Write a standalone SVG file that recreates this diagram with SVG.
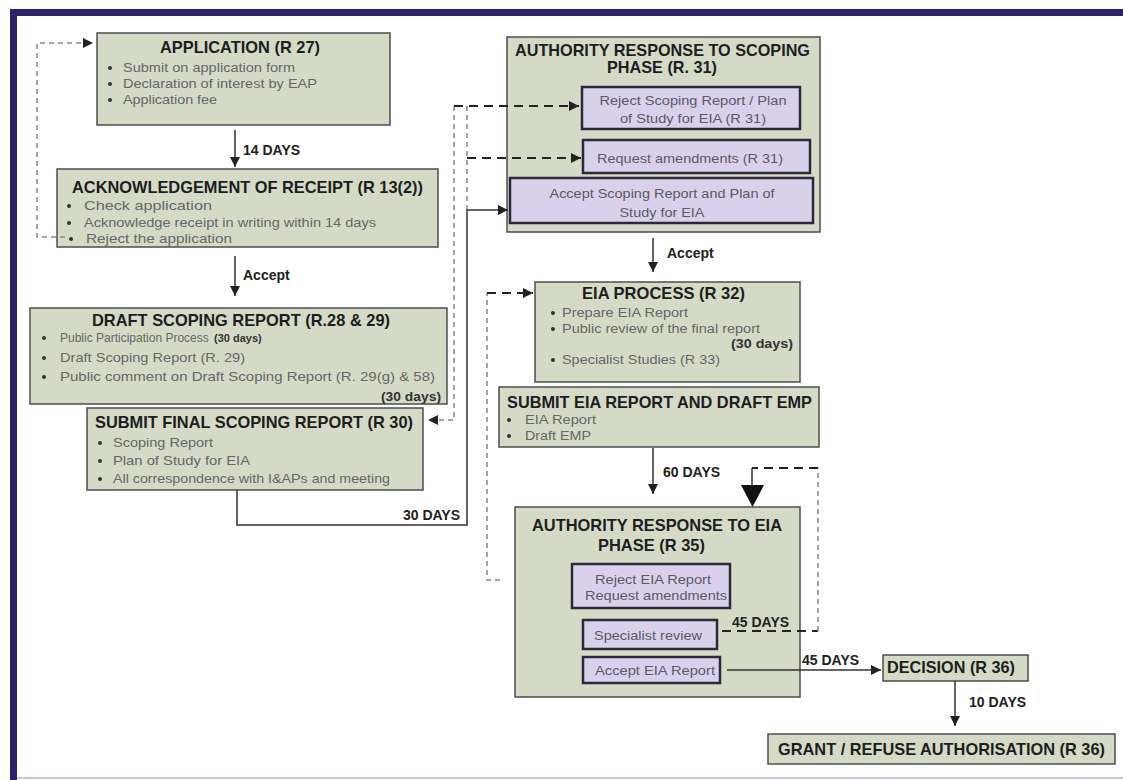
<svg xmlns="http://www.w3.org/2000/svg" width="1123" height="780" viewBox="0 0 1123 780">
<style>
.box{fill:#d5dac7;stroke:#4d4d4d;stroke-width:1.5}
.pbox{fill:#d9d0ec;stroke:#2a2a36;stroke-width:2.5}
.t{font-family:"Liberation Sans",Arial,sans-serif;font-weight:bold;font-size:16.4px;fill:#1e1e1e}
.b{font-family:"Liberation Sans",Arial,sans-serif;font-size:13px;fill:#666}
.pb{font-family:"Liberation Sans",Arial,sans-serif;font-size:13px;fill:#5a5a66}
.d{font-family:"Liberation Sans",Arial,sans-serif;font-weight:bold;font-size:12.5px;fill:#333}
.lbl{font-family:"Liberation Sans",Arial,sans-serif;font-weight:bold;font-size:14px;fill:#222}
.bul{fill:#333}
.ln{fill:none;stroke:#333;stroke-width:1.5}
.dk{fill:none;stroke:#222;stroke-width:2;stroke-dasharray:9 6}
.dt{fill:none;stroke:#888;stroke-width:1.5;stroke-dasharray:5 4}
</style>
<defs>
<marker id="ah" markerUnits="userSpaceOnUse" markerWidth="10" markerHeight="10" viewBox="0 0 10 10" refX="10" refY="5" orient="auto">
<path d="M0,0 L10,5 L0,10 z" fill="#222"/>
</marker>
</defs>
<rect width="1123" height="780" fill="#ffffff"/>
<g id="frame">
<rect x="10" y="9" width="1113" height="7" fill="#2c2070"/>
<rect x="10" y="9" width="7" height="771" fill="#2c2070"/>
<rect x="17" y="777" width="1106" height="2" fill="#c9c3dc"/>
</g>

<g id="application">
<rect class="box" x="97" y="33" width="293" height="92"/>
<text class="t" x="240" y="53" text-anchor="middle" textLength="160" lengthAdjust="spacingAndGlyphs">APPLICATION (R 27)</text>
<circle class="bul" cx="110" cy="68" r="2"/><text class="b" x="123" y="72" textLength="172" lengthAdjust="spacingAndGlyphs">Submit on application form</text>
<circle class="bul" cx="110" cy="84" r="2"/><text class="b" x="123" y="88" textLength="194" lengthAdjust="spacingAndGlyphs">Declaration of interest by EAP</text>
<circle class="bul" cx="110" cy="100" r="2"/><text class="b" x="123" y="104" textLength="94" lengthAdjust="spacingAndGlyphs">Application fee</text>
</g>

<g id="acknowledgement">
<rect class="box" x="57" y="169" width="381" height="78"/>
<text class="t" x="247.5" y="193" text-anchor="middle" textLength="351" lengthAdjust="spacingAndGlyphs">ACKNOWLEDGEMENT OF RECEIPT (R 13(2))</text>
<circle class="bul" cx="69" cy="206" r="2"/><text class="b" x="84" y="210" textLength="128" lengthAdjust="spacingAndGlyphs">Check application</text>
<circle class="bul" cx="69" cy="223" r="2"/><text class="b" x="84" y="227" textLength="292" lengthAdjust="spacingAndGlyphs">Acknowledge receipt in writing within 14 days</text>
<circle class="bul" cx="71" cy="239" r="2"/><text class="b" x="86" y="243" textLength="146" lengthAdjust="spacingAndGlyphs">Reject the application</text>
</g>

<g id="draft-scoping">
<rect class="box" x="30" y="308" width="417" height="96"/>
<text class="t" x="241" y="326" text-anchor="middle" textLength="298" lengthAdjust="spacingAndGlyphs">DRAFT SCOPING REPORT (R.28 &amp; 29)</text>
<circle class="bul" cx="44" cy="338" r="2"/><text class="b" x="60" y="342" style="font-size:12px">Public Participation Process</text>
<text class="d" x="214" y="342" style="font-size:11px">(30 days)</text>
<circle class="bul" cx="44" cy="358" r="2"/><text class="b" x="60" y="362" textLength="185" lengthAdjust="spacingAndGlyphs">Draft Scoping Report (R. 29)</text>
<circle class="bul" cx="44" cy="377" r="2"/><text class="b" x="60" y="381" textLength="375" lengthAdjust="spacingAndGlyphs">Public comment on Draft Scoping Report (R. 29(g) &amp; 58)</text>
<text class="d" x="441" y="401" text-anchor="end" textLength="60" lengthAdjust="spacingAndGlyphs">(30 days)</text>
</g>

<g id="submit-final-scoping">
<rect class="box" x="87" y="408" width="336" height="82"/>
<text class="t" x="254" y="428" text-anchor="middle" textLength="318" lengthAdjust="spacingAndGlyphs">SUBMIT FINAL SCOPING REPORT (R 30)</text>
<circle class="bul" cx="100" cy="443" r="2"/><text class="b" x="113" y="447" textLength="100" lengthAdjust="spacingAndGlyphs">Scoping Report</text>
<circle class="bul" cx="100" cy="461" r="2"/><text class="b" x="113" y="465" textLength="137" lengthAdjust="spacingAndGlyphs">Plan of Study for EIA</text>
<circle class="bul" cx="100" cy="479" r="2"/><text class="b" x="113" y="483" textLength="277" lengthAdjust="spacingAndGlyphs">All correspondence with I&amp;APs and meeting</text>
</g>

<g id="authority-scoping">
<rect class="box" x="507" y="37" width="313" height="195"/>
<text class="t" x="662.5" y="56" text-anchor="middle" textLength="295" lengthAdjust="spacingAndGlyphs">AUTHORITY RESPONSE TO SCOPING</text>
<text class="t" x="662" y="73" text-anchor="middle" textLength="110" lengthAdjust="spacingAndGlyphs">PHASE (R. 31)</text>
</g>
<g id="reject-scoping">
<rect class="pbox" x="582" y="87" width="218" height="42"/>
<text class="pb" x="693" y="105" text-anchor="middle" textLength="187" lengthAdjust="spacingAndGlyphs">Reject Scoping Report / Plan</text>
<text class="pb" x="693" y="123" text-anchor="middle" textLength="146" lengthAdjust="spacingAndGlyphs">of Study for EIA (R 31)</text>
</g>
<g id="request-amendments-scoping">
<rect class="pbox" x="583" y="140" width="227" height="33"/>
<text class="pb" x="690" y="163" text-anchor="middle" textLength="186" lengthAdjust="spacingAndGlyphs">Request amendments (R 31)</text>
</g>
<g id="accept-scoping">
<rect class="pbox" x="510" y="178" width="303" height="45"/>
<text class="pb" x="662" y="198" text-anchor="middle" textLength="225" lengthAdjust="spacingAndGlyphs">Accept Scoping Report and Plan of</text>
<text class="pb" x="662" y="217" text-anchor="middle" textLength="85" lengthAdjust="spacingAndGlyphs">Study for EIA</text>
</g>

<g id="eia-process">
<rect class="box" x="535" y="282" width="265" height="100"/>
<text class="t" x="663.5" y="299" text-anchor="middle" textLength="163" lengthAdjust="spacingAndGlyphs">EIA PROCESS (R 32)</text>
<circle class="bul" cx="553" cy="313" r="2"/><text class="b" x="562" y="317" textLength="126" lengthAdjust="spacingAndGlyphs">Prepare EIA Report</text>
<circle class="bul" cx="553" cy="329" r="2"/><text class="b" x="562" y="333" textLength="198" lengthAdjust="spacingAndGlyphs">Public review of the final report</text>
<text class="d" x="793" y="348" text-anchor="end" textLength="62" lengthAdjust="spacingAndGlyphs">(30 days)</text>
<circle class="bul" cx="553" cy="360" r="2"/><text class="b" x="562" y="364" textLength="158" lengthAdjust="spacingAndGlyphs">Specialist Studies (R 33)</text>
</g>

<g id="submit-eia">
<rect class="box" x="499" y="387" width="320" height="60"/>
<text class="t" x="659.5" y="408" text-anchor="middle" textLength="305" lengthAdjust="spacingAndGlyphs">SUBMIT EIA REPORT AND DRAFT EMP</text>
<circle class="bul" cx="509" cy="420" r="2"/><text class="b" x="525" y="424" textLength="71" lengthAdjust="spacingAndGlyphs">EIA Report</text>
<circle class="bul" cx="509" cy="436" r="2"/><text class="b" x="525" y="440" textLength="66" lengthAdjust="spacingAndGlyphs">Draft EMP</text>
</g>

<g id="authority-eia">
<rect class="box" x="515" y="507" width="285" height="190"/>
<text class="t" x="657" y="531" text-anchor="middle" textLength="250" lengthAdjust="spacingAndGlyphs">AUTHORITY RESPONSE TO EIA</text>
<text class="t" x="651.5" y="551" text-anchor="middle" textLength="107" lengthAdjust="spacingAndGlyphs">PHASE (R 35)</text>
</g>
<g id="reject-eia">
<rect class="pbox" x="572" y="564" width="158" height="44"/>
<text class="pb" x="653" y="584" text-anchor="middle" textLength="116" lengthAdjust="spacingAndGlyphs">Reject EIA Report</text>
<text class="pb" x="656" y="600" text-anchor="middle" textLength="142" lengthAdjust="spacingAndGlyphs">Request amendments</text>
</g>
<g id="specialist-review">
<rect class="pbox" x="583" y="620" width="134" height="29"/>
<text class="pb" x="648" y="640" text-anchor="middle" textLength="108" lengthAdjust="spacingAndGlyphs">Specialist review</text>
</g>
<g id="accept-eia">
<rect class="pbox" x="583" y="657" width="137" height="26"/>
<text class="pb" x="655" y="675" text-anchor="middle" textLength="120" lengthAdjust="spacingAndGlyphs">Accept EIA Report</text>
</g>

<g id="decision">
<rect class="box" x="883" y="655" width="145" height="26"/>
<text class="t" x="887" y="673" textLength="128" lengthAdjust="spacingAndGlyphs">DECISION (R 36)</text>
</g>

<g id="grant-refuse">
<rect class="box" x="768" y="734" width="347" height="30"/>
<text class="t" x="941.5" y="755" text-anchor="middle" textLength="327" lengthAdjust="spacingAndGlyphs">GRANT / REFUSE AUTHORISATION (R 36)</text>
</g>

<g id="connectors">
<path class="dt" d="M65,237 L37,237 L37,43 L93,43" marker-end="url(#ah)"/>
<path class="ln" d="M235,130 L235,167" marker-end="url(#ah)"/>
<path class="ln" d="M235,256 L235,296" marker-end="url(#ah)"/>
<path class="dt" d="M454,106 L454,420 L428,420" marker-end="url(#ah)"/>
<path class="dk" d="M454,106 L579,106" marker-end="url(#ah)"/>
<path class="dk" d="M467,158 L581,158" marker-end="url(#ah)"/>
<path class="dt" d="M467,106 L467,210"/>
<path class="ln" d="M237,490 L237,525 L467,525 L467,210 L508,210" marker-end="url(#ah)"/>
<path class="ln" d="M653,238 L653,272" marker-end="url(#ah)"/>
<path class="dt" d="M500,580 L487,580 L487,293"/>
<path class="dk" d="M487,293 L533,293" marker-end="url(#ah)"/>
<path class="ln" d="M653,448 L653,494" marker-end="url(#ah)"/>
<path class="dk" d="M722,631 L818,631"/>
<path class="dt" d="M818,631 L818,468"/>
<path class="dk" d="M818,468 L752,468"/>
<path class="ln" d="M752,468 L752,486"/>
<polygon points="741,485 764,485 752.5,507" fill="#111"/>
<path class="ln" d="M727,670 L881,670" marker-end="url(#ah)"/>
<path class="ln" d="M955,681 L955,726" marker-end="url(#ah)"/>
<text class="lbl" x="243" y="155">14 DAYS</text>
<text class="lbl" x="243" y="280">Accept</text>
<text class="lbl" x="460" y="520" text-anchor="end">30 DAYS</text>
<text class="lbl" x="667" y="258">Accept</text>
<text class="lbl" x="663" y="477">60 DAYS</text>
<text class="lbl" x="732" y="627">45 DAYS</text>
<text class="lbl" x="802" y="665">45 DAYS</text>
<text class="lbl" x="969" y="707">10 DAYS</text>
</g>
</svg>
